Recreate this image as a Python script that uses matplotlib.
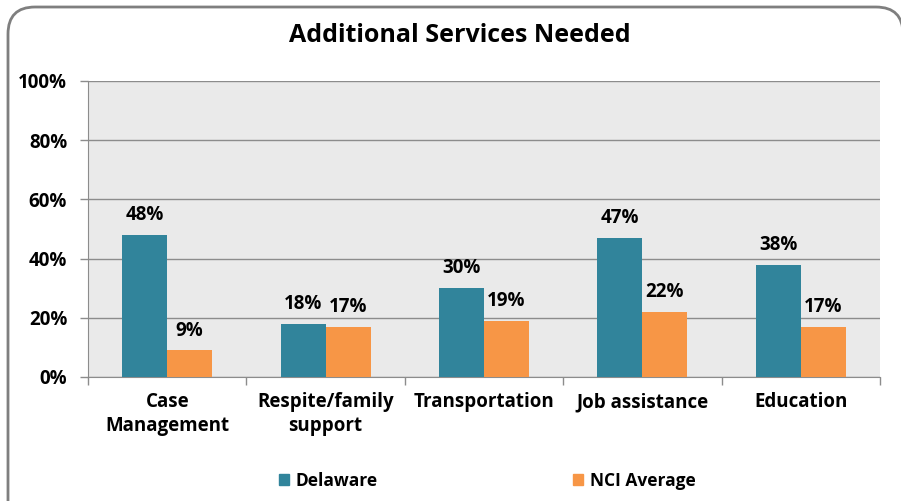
import matplotlib
matplotlib.use("Agg")
import matplotlib.pyplot as plt
import numpy as np
from matplotlib.patches import FancyBboxPatch, Patch

CATEGORIES = ["Case\nManagement", "Respite/family\nsupport", "Transportation",
              "Job assistance", "Education"]
DELAWARE = [48, 18, 30, 47, 38]
NCI_AVG = [9, 17, 19, 22, 17]
Y_TICKS = [0, 20, 40, 60, 80, 100]

TEAL = "#31849B"
ORANGE = "#F79646"
GRID = "#8C8C8C"
FONT = ["Open Sans", "DejaVu Sans"]

plt.rcParams["font.family"] = FONT
plt.rcParams["font.weight"] = "bold"

fig = plt.figure(figsize=(9.01, 5.01), dpi=100)

# rounded outer frame; right and bottom edges run off the canvas
frame = FancyBboxPatch((8 / 901, -0.1), 895 / 901, 1.086,
                       boxstyle="round,pad=0,rounding_size=0.03",
                       transform=fig.transFigure, facecolor="white",
                       edgecolor="#7F7F7F", linewidth=2, zorder=-1,
                       mutation_aspect=901 / 501)
fig.patches.append(frame)

ax = fig.add_axes([88 / 901, 1 - 377 / 501, 792 / 901, 296 / 501])
ax.set_facecolor("#EAEAEA")

x = np.arange(len(CATEGORIES))
w = 0.284
b1 = ax.bar(x - w / 2, DELAWARE, w, color=TEAL, zorder=3)
b2 = ax.bar(x + w / 2, NCI_AVG, w, color=ORANGE, zorder=3)

for bars, vals in ((b1, DELAWARE), (b2, NCI_AVG)):
    for r, v in zip(bars, vals):
        ax.annotate(f"{v}%", (r.get_x() + r.get_width() / 2, v),
                    xytext=(0, 7), textcoords="offset points",
                    ha="center", va="bottom", fontsize=13.5, fontweight="bold")

ax.set_xlim(-0.5, len(CATEGORIES) - 0.5)
ax.set_ylim(0, 100)
ax.set_yticks(Y_TICKS)
ax.set_yticklabels([f"{t}%" for t in Y_TICKS], fontsize=13.5, fontweight="bold")
ax.yaxis.grid(True, color=GRID, linewidth=1, zorder=1)
ax.tick_params(axis="y", length=6, color=GRID, width=1, pad=9)

ax.set_xticks(x)
ax.set_xticklabels(CATEGORIES, fontsize=13.5, fontweight="bold", linespacing=1.25)
ax.tick_params(axis="x", length=0, pad=11)
ax.set_xticks(np.arange(len(CATEGORIES) + 1) - 0.5, minor=True)
ax.tick_params(axis="x", which="minor", length=6, color=GRID, width=1)

for side in ("top", "right"):
    ax.spines[side].set_visible(False)
ax.spines["left"].set_color(GRID)
ax.spines["bottom"].set_color(GRID)

fig.text(460 / 901, 1 - 35 / 501, "Additional Services Needed",
         ha="center", va="center", fontsize=18, fontweight="bold")

fig.legend(handles=[Patch(color=TEAL, label="Delaware")],
           loc="center left", bbox_to_anchor=(263 / 901, 1 - 481 / 501),
           frameon=False, fontsize=12.5, handlelength=0.6, handleheight=0.6,
           handletextpad=0.4)
fig.legend(handles=[Patch(color=ORANGE, label="NCI Average")],
           loc="center left", bbox_to_anchor=(557 / 901, 1 - 481 / 501),
           frameon=False, fontsize=12.5, handlelength=0.6, handleheight=0.6,
           handletextpad=0.4)

fig.savefig("out.png", dpi=100)
